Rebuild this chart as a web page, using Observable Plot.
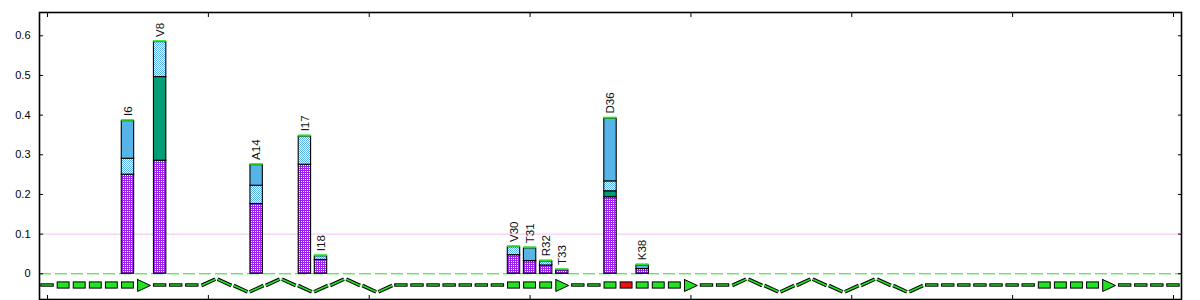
<!DOCTYPE html>
<html>
<head>
<meta charset="utf-8">
<style>
  html, body { margin: 0; padding: 0; background: #fff; }
  #chart svg { display: block; }
</style>
<script src="https://cdn.jsdelivr.net/npm/d3@7"></script>
<script src="https://cdn.jsdelivr.net/npm/@observablehq/plot@0.6"></script>
</head>
<body>
<div id="chart"></div>
<script>
// ---------------- DATA ----------------
const residueLabels    = ["I6", "V8", "A14", "I17", "I18", "V30", "T31", "R32", "T33", "D36", "K38"];
const residuePositions = [6, 8, 14, 17, 18, 30, 31, 32, 33, 36, 38];
const purpleValues     = [0.250, 0.285, 0.176, 0.275, 0.035, 0.047, 0.032, 0.021, 0.009, 0.193, 0.012];
const greenValues      = [0.000, 0.211, 0.000, 0.000, 0.000, 0.000, 0.000, 0.000, 0.000, 0.015, 0.000];
const lightBlueValues  = [0.040, 0.088, 0.046, 0.071, 0.009, 0.020, 0.000, 0.010, 0.000, 0.025, 0.000];
const blueValues       = [0.095, 0.000, 0.052, 0.000, 0.000, 0.000, 0.032, 0.000, 0.000, 0.158, 0.009];
const limeValues       = [0.003, 0.003, 0.003, 0.003, 0.003, 0.003, 0.003, 0.003, 0.003, 0.003, 0.003];

// secondary structure per residue 1..71 (C = coil, E = strand, H = helix)
const secondaryStructure = "CEEEEEECCCHHHHHHHHHHHHCCCCCCCEEEECCEEEEEECCHHHHHHHHHHHHCCCCCCCEEEEECCCC";
const highlightedResidues = [37];

const yTicks = [0, 0.1, 0.2, 0.3, 0.4, 0.5, 0.6];
const xTicks = [1, 11, 21, 31, 41, 51, 61, 71];
const referenceLines = [0.1];
const zeroLine = [0];

// ---------------- LAYOUT / STYLE ----------------
const GREEN = "#22e322";
const RED = "#ee1111";
const BAR_HALF = 0.385;
const TRACK_Y = -0.0295;
const COIL_HALF_H = 0.0030, COIL_HALF_W = 0.385;
const BOX_HALF_H = 0.0078, BOX_HALF_W = 0.37;
const HEAD_HALF_H = 0.0150, HEAD_HALF_W = 0.40;
const HELIX_AMP = 0.016, HELIX_HALF_W = 0.43;

const layers = [
  {key: "purple",    values: purpleValues,    fill: "url(#pat-purple)", stroke: "black"},
  {key: "green",     values: greenValues,     fill: "#009e73",          stroke: "black"},
  {key: "lightblue", values: lightBlueValues, fill: "url(#pat-blue)",   stroke: "black"},
  {key: "blue",      values: blueValues,      fill: "#56b4e9",          stroke: "black"},
  {key: "lime",      values: limeValues,      fill: GREEN,              stroke: GREEN}
];

const segments = [];
const labelsData = [];
residuePositions.forEach((pos, i) => {
  let base = 0;
  layers.forEach(L => {
    const v = L.values[i];
    if (v > 0) segments.push({layer: L.key, pos, y1: base, y2: base + v});
    base += v;
  });
  labelsData.push({pos, total: base, label: residueLabels[i]});
});

// secondary-structure track derived from the string
const track = Array.from(secondaryStructure, (s, i) => ({res: i + 1, ss: s, idx: i}));
const coil = track.filter(d => d.ss === "C");
const boxes = track.filter(d => d.ss === "E" && secondaryStructure[d.idx + 1] === "E");
const heads = track.filter(d => d.ss === "E" && secondaryStructure[d.idx + 1] !== "E");
const isHi = d => highlightedResidues.includes(d.res);

const headPts = [];
heads.forEach(d => {
  const r = d.res;
  headPts.push({z: r, x: r - HEAD_HALF_W, y: TRACK_Y + HEAD_HALF_H});
  headPts.push({z: r, x: r + HEAD_HALF_W, y: TRACK_Y});
  headPts.push({z: r, x: r - HEAD_HALF_W, y: TRACK_Y - HEAD_HALF_H});
  headPts.push({z: r, x: r - HEAD_HALF_W, y: TRACK_Y + HEAD_HALF_H});
});

const helixSegs = [];
let run = 0;
track.forEach(d => {
  if (d.ss === "H") {
    const phase = run % 4;
    const ys = [[0, 1], [1, 0], [0, -1], [-1, 0]][phase];
    helixSegs.push({
      x1: d.res - HELIX_HALF_W, x2: d.res + HELIX_HALF_W,
      y1: TRACK_Y + ys[0] * HELIX_AMP, y2: TRACK_Y + ys[1] * HELIX_AMP
    });
    run++;
  } else run = 0;
});

// ---------------- PLOT ----------------
const barMarks = layers.map(L =>
  Plot.rect(segments.filter(s => s.layer === L.key), {
    x1: d => d.pos - BAR_HALF, x2: d => d.pos + BAR_HALF,
    y1: "y1", y2: "y2",
    fill: L.fill, stroke: L.stroke, strokeWidth: L.key === "lime" ? 0.6 : 1.1
  })
);

const svg = Plot.plot({
  width: 1200,
  height: 300,
  marginLeft: 39,
  marginRight: 19,
  marginTop: 12,
  marginBottom: 1,
  style: {fontFamily: "'Liberation Sans', Arial, sans-serif", fontSize: "11px", background: "white"},
  x: {type: "linear", domain: [0.5, 71.5], label: null},
  y: {type: "linear", domain: [-0.0648, 0.6587], label: null},
  marks: [
    Plot.ruleY(referenceLines, {stroke: "#f2c2f2", strokeWidth: 1}),
    Plot.ruleY(zeroLine, {stroke: "#22dd22", strokeWidth: 1, strokeDasharray: "12,4"}),
    ...barMarks,
    Plot.text(labelsData, {
      x: "pos", y: "total", text: "label", rotate: -90, textAnchor: "start",
      dy: -4, fontSize: 11.5, fill: "#111"
    }),
    // helix zigzag
    Plot.link(helixSegs, {x1: "x1", y1: "y1", x2: "x2", y2: "y2", stroke: "black", strokeWidth: 3.6, strokeLinecap: "butt"}),
    Plot.link(helixSegs, {x1: "x1", y1: "y1", x2: "x2", y2: "y2", stroke: GREEN, strokeWidth: 1.6, strokeLinecap: "butt"}),
    // coil
    Plot.rect(coil, {
      x1: d => d.res - COIL_HALF_W, x2: d => d.res + COIL_HALF_W,
      y1: TRACK_Y - COIL_HALF_H, y2: TRACK_Y + COIL_HALF_H,
      fill: GREEN, stroke: "black", strokeWidth: 1
    }),
    // strand boxes
    Plot.rect(boxes.filter(d => !isHi(d)), {
      x1: d => d.res - BOX_HALF_W, x2: d => d.res + BOX_HALF_W,
      y1: TRACK_Y - BOX_HALF_H, y2: TRACK_Y + BOX_HALF_H,
      fill: GREEN, stroke: "black", strokeWidth: 1
    }),
    Plot.rect(boxes.filter(d => isHi(d)), {
      x1: d => d.res - BOX_HALF_W, x2: d => d.res + BOX_HALF_W,
      y1: TRACK_Y - BOX_HALF_H, y2: TRACK_Y + BOX_HALF_H,
      fill: RED, stroke: "black", strokeWidth: 1
    }),
    // strand arrow heads
    Plot.line(headPts, {x: "x", y: "y", z: "z", fill: GREEN, stroke: "black", strokeWidth: 1, curve: "linear"}),
    Plot.frame({stroke: "black", strokeWidth: 1.6}),
    Plot.axisY(yTicks, {anchor: "left", tickSize: -4, tickPadding: 13, tickFormat: d => String(d), fontSize: 11, label: null}),
    Plot.axisY(yTicks, {anchor: "right", tickSize: -4, tickFormat: () => "", label: null}),
    Plot.axisX(xTicks, {anchor: "bottom", tickSize: -4, tickFormat: () => "", label: null}),
    Plot.axisX(xTicks, {anchor: "top", tickSize: -4, tickFormat: () => "", label: null})
  ]
});

// patterns
const defs = d3.select(svg).insert("defs", ":first-child");
function dotted(id, color, whiteCells) {
  const p = defs.append("pattern").attr("id", id)
    .attr("width", 2).attr("height", 2).attr("patternUnits", "userSpaceOnUse");
  p.append("rect").attr("width", 2).attr("height", 2).attr("fill", color);
  whiteCells.forEach(([x, y]) =>
    p.append("rect").attr("x", x).attr("y", y).attr("width", 1).attr("height", 1).attr("fill", "white"));
}
dotted("pat-purple", "#a020f0", [[1, 1]]);
dotted("pat-blue", "#56b4e9", [[1, 0], [0, 1]]);

document.getElementById("chart").appendChild(svg);
</script>
</body>
</html>
